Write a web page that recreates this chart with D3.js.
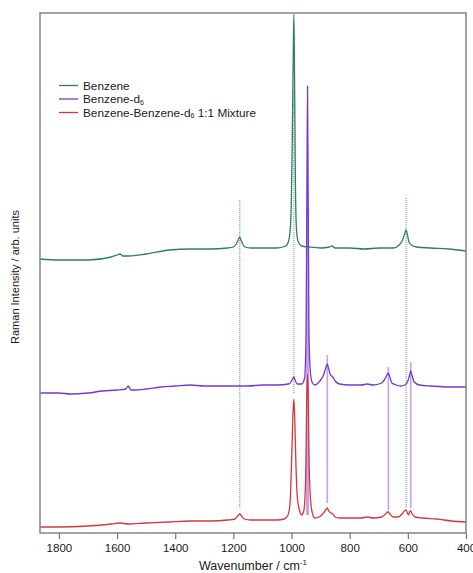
<!DOCTYPE html>
<html>
<head>
<meta charset="utf-8">
<script src="https://cdn.jsdelivr.net/npm/d3@7"></script>
<style>
  body { margin: 0; background: #fff; }
  text { font-family: "Liberation Sans", Arial, sans-serif; fill: #1a1a1a; }
</style>
</head>
<body>
<div id="chart"></div>
<script>
// spectra: [wavenumber, intensity (arb., stacked)]
var benzene = [[1865,274],[1800,273],[1700,273],[1620,276],[1600,278],[1590,279],[1580,277],[1560,277],[1500,279],[1420,283],[1350,284],[1280,284],[1220,285],[1200,286],[1190,289],[1182,294],[1178,296],[1174,293],[1168,289],[1160,286],[1140,285],[1100,285],[1050,285],[1020,287],[1010,292],[1003,310],[998,380],[994,480],[992,519],[990,470],[987,360],[984,310],[980,295],[975,290],[965,287],[940,286],[900,285],[870,286],[861,287],[850,285],[800,285],[750,284],[700,285],[650,285],[630,288],[618,293],[610,300],[606,303],[602,299],[596,291],[588,288],[570,286],[520,285],[460,284],[400,282]];
var benzeneD6 = [[1865,140],[1800,140],[1760,139],[1700,140],[1650,142],[1600,143],[1570,144],[1562,147],[1559,146],[1552,143],[1540,143],[1500,144],[1450,146],[1400,147],[1350,148],[1300,147],[1250,147],[1200,147],[1150,147],[1100,148],[1050,148],[1010,149],[1000,152],[995,155],[992,156],[988,153],[980,149],[965,149],[955,155],[950,200],[947,350],[945,447],[943,350],[940,200],[935,160],[928,150],[920,148],[905,151],[890,158],[880,167],[877,169],[873,165],[866,158],[858,156],[850,152],[835,149],[800,148],[760,148],[740,149],[720,148],[690,150],[677,155],[670,159],[667,160],[663,157],[655,150],[640,148],[625,147],[610,148],[600,152],[594,158],[590,162],[586,158],[578,151],[560,148],[520,147],[460,146],[400,146]];
var mixture = [[1865,6],[1800,6],[1700,7],[1620,9],[1590,10],[1560,9],[1500,10],[1420,11],[1350,12],[1280,12],[1220,13],[1195,14],[1185,17],[1178,19],[1172,17],[1162,14],[1140,13],[1100,13],[1050,13],[1025,14],[1012,18],[1005,30],[999,80],[995,120],[992,134],[989,115],[985,70],[980,35],[972,22],[965,18],[958,22],[953,40],[950,80],[948,130],[945,159],[942,130],[940,80],[936,40],[930,22],[920,15],[905,16],[890,20],[880,24],[877,25],[872,22],[865,20],[858,19],[850,16],[835,15],[800,15],[760,15],[740,16],[720,15],[690,16],[677,19],[670,21],[667,21],[662,19],[650,16],[635,16],[620,19],[612,22],[606,23],[600,19],[597,18],[594,21],[590,22],[585,19],[575,16],[550,15],[500,14],[450,12],[400,11]];

// marker lines: [wavenumber, top, bottom]
var benzeneMarks = [[1178,333,26],[992,443,140],[606,335,25]];
var d6Marks = [[945,326,18],[877,178,30],[667,166,23],[590,171,25]];

var xTicks = [1800,1600,1400,1200,1000,800,600,400];
var legendNames = ["Benzene","Benzene-d","Benzene-Benzene-d"];
var colors = ["#2f7f62","#7438d2","#d9353f"];

var w = 473, h = 573;
var pLeft = 40, pRight = 466, pTop = 13, pBottom = 533;

var svg = d3.select("#chart").append("svg")
    .attr("width", w)
    .attr("height", h);

var x = d3.scaleLinear().domain([1865, 400]).range([pLeft, pRight]);
var y = d3.scaleLinear().domain([0, 520]).range([pBottom, pTop]);

var line = d3.line()
    .x(function(d){ return x(d[0]); })
    .y(function(d){ return y(d[1]); })
    .curve(d3.curveMonotoneX);

// light purple markers (under the traces)
svg.selectAll("line.d6").data(d6Marks).enter().append("line")
    .attr("class", "d6")
    .attr("x1", function(d){ return x(d[0]); })
    .attr("x2", function(d){ return x(d[0]); })
    .attr("y1", function(d){ return y(d[1]); })
    .attr("y2", function(d){ return y(d[2]); })
    .attr("stroke", "#c4a2ec")
    .attr("stroke-width", function(d, i){ return i == 0 ? 3 : 1.6; });

// dotted benzene markers
svg.selectAll("line.bz").data(benzeneMarks).enter().append("line")
    .attr("class", "bz")
    .attr("x1", function(d){ return x(d[0]); })
    .attr("x2", function(d){ return x(d[0]); })
    .attr("y1", function(d){ return y(d[1]); })
    .attr("y2", function(d){ return y(d[2]); })
    .attr("stroke", "#5f9483")
    .attr("stroke-width", 1)
    .attr("stroke-dasharray", "1,1");

// traces
var series = [mixture, benzeneD6, benzene];
var seriesColors = [colors[2], colors[1], colors[0]];
series.forEach(function(s, i){
    svg.append("path")
        .datum(s)
        .attr("d", line)
        .attr("fill", "none")
        .attr("stroke", seriesColors[i])
        .attr("stroke-width", 1.3)
        .attr("stroke-linejoin", "round");
});

// frame
svg.append("rect")
    .attr("x", pLeft).attr("y", pTop)
    .attr("width", pRight - pLeft).attr("height", pBottom - pTop)
    .attr("fill", "none")
    .attr("stroke", "#858585")
    .attr("stroke-width", 1.5);

// x axis
var xAxis = d3.axisBottom(x).tickValues(xTicks).tickFormat(d3.format("d")).tickSize(6).tickPadding(5);
var gx = svg.append("g")
    .attr("transform", "translate(0," + pBottom + ")")
    .call(xAxis);
gx.select(".domain").remove();
gx.selectAll(".tick line").attr("stroke", "#777").attr("stroke-width", 1.2);
gx.selectAll(".tick text")
    .attr("font-size", "11.5px")
    .attr("font-family", "Liberation Sans, Arial, sans-serif")
    .attr("fill", "#1a1a1a");

var xl = svg.append("text")
    .attr("x", (pLeft + pRight) / 2)
    .attr("y", 570)
    .attr("text-anchor", "middle")
    .attr("font-size", "12.5px");
xl.append("tspan").text("Wavenumber / cm");
xl.append("tspan").attr("dy", -5).attr("font-size", "8px").text("-1");

svg.append("text")
    .attr("transform", "translate(19," + ((pTop + pBottom) / 2 + 4) + ") rotate(-90)")
    .attr("text-anchor", "middle")
    .attr("font-size", "11px")
    .text("Raman Intensity / arb. units");

// legend
var lg = svg.append("g");
legendNames.forEach(function(name, i){
    var yy = 85.5 + i * 13.5;
    lg.append("line")
        .attr("x1", 59).attr("x2", 78)
        .attr("y1", yy).attr("y2", yy)
        .attr("stroke", colors[i])
        .attr("stroke-width", 1.3);
    var t = lg.append("text")
        .attr("x", 83).attr("y", yy + 4)
        .attr("font-size", "11.8px");
    t.append("tspan").text(name);
    if (i > 0) {
        t.append("tspan").attr("dy", 1.5).attr("font-size", "7px").text("6");
    }
    if (i == 2) {
        t.append("tspan").attr("dy", -1.5).text(" 1:1 Mixture");
    }
});
</script>
</body>
</html>
